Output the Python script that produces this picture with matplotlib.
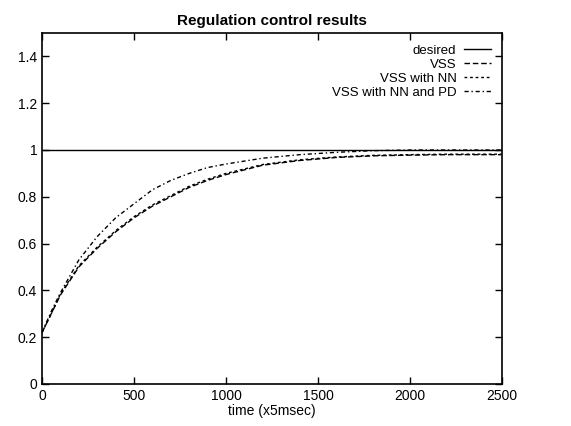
import matplotlib
matplotlib.use("Agg")
import matplotlib.pyplot as plt

plt.rcParams['font.family'] = ['Liberation Sans', 'DejaVu Sans']

# time samples (x5 msec) and responses
t = [0, 50, 100, 200, 300, 400, 500, 600, 700, 800, 900, 1000,
     1200, 1400, 1600, 1800, 2000, 2200, 2500]
desired = [1.0] * len(t)
vss = [0.22, 0.30, 0.38, 0.50, 0.58, 0.65, 0.71, 0.76, 0.80, 0.84, 0.87, 0.895,
       0.935, 0.955, 0.968, 0.975, 0.978, 0.98, 0.98]
vss_nn = [0.22, 0.30, 0.385, 0.505, 0.585, 0.655, 0.715, 0.765, 0.805, 0.845, 0.875, 0.90,
          0.938, 0.958, 0.970, 0.977, 0.98, 0.982, 0.982]
vss_nn_pd = [0.22, 0.31, 0.39, 0.53, 0.63, 0.71, 0.77, 0.83, 0.87, 0.90, 0.925, 0.94,
             0.965, 0.98, 0.99, 0.997, 1.0, 1.0, 1.0]

fig = plt.figure(figsize=(5.71, 4.26), dpi=100)
ax = fig.add_axes([0.0736, 0.0986, 0.8055, 0.824])

ax.plot(t, desired, color='black', lw=1.0, label='desired')
ax.plot(t, vss, color='black', lw=1.0, ls=(0, (4, 2)), label='VSS')
ax.plot(t, vss_nn, color='black', lw=1.0, ls=(0, (2, 2)), label='VSS with NN')
ax.plot(t, vss_nn_pd, color='black', lw=1.0, ls=(0, (3, 2, 1, 2)), label='VSS with NN and PD')

ax.set_xlim(0, 2500)
ax.set_ylim(0, 1.5)
ax.set_xticks([0, 500, 1000, 1500, 2000, 2500])
ax.set_yticks([0, 0.2, 0.4, 0.6, 0.8, 1, 1.2, 1.4])
ax.set_yticklabels(['0', '0.2', '0.4', '0.6', '0.8', '1', '1.2', '1.4'])
ax.tick_params(direction='in', top=True, right=True, length=5, labelsize=10, width=1)
for s in ax.spines.values():
    s.set_linewidth(1.2)

ax.set_title('Regulation control results', fontsize=11, fontweight='bold', pad=6)
ax.set_xlabel('time (x5msec)', fontsize=10, labelpad=1)

ax.legend(loc='upper right', bbox_to_anchor=(0.99, 0.985), frameon=False,
          markerfirst=False, fontsize=9.5, handlelength=2.0, labelspacing=0.12,
          handletextpad=0.6, borderpad=0)

fig.savefig('out.png', dpi=100)
